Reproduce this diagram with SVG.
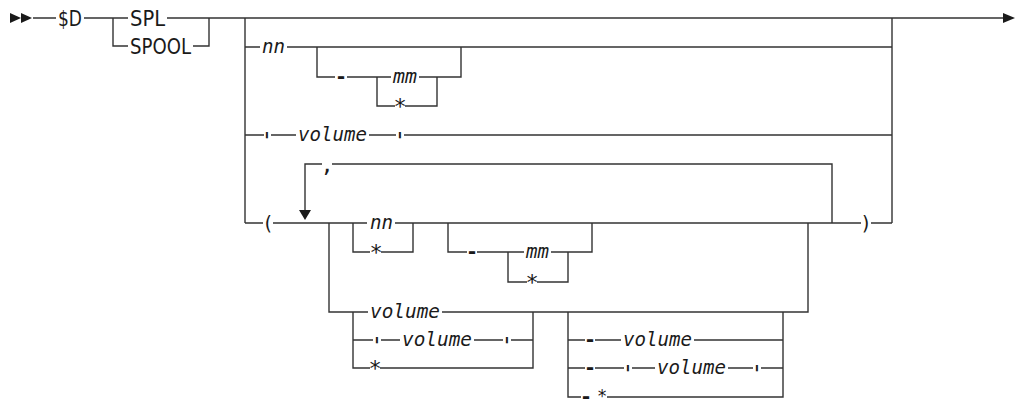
<svg xmlns="http://www.w3.org/2000/svg" width="1017" height="406" viewBox="0 0 1017 406">
<style>
.c{fill:none;stroke:#333;stroke-width:1.4}
.k{font-family:"DejaVu Sans Condensed","DejaVu Sans",sans-serif;font-stretch:condensed;font-size:20.5px;fill:#1a1a1a}
.v{font-family:"DejaVu Sans Mono",monospace;font-style:italic;font-size:20px;fill:#1a1a1a}
.p{font-family:"DejaVu Sans Mono",monospace;font-size:22px;fill:#1a1a1a;text-anchor:middle}
.q{font-family:"DejaVu Sans Mono",monospace;font-size:23px;fill:#1a1a1a;text-anchor:middle}
.h{font-family:"DejaVu Sans Mono",monospace;font-size:20px;font-weight:bold;fill:#1a1a1a;text-anchor:middle}
.r{font-family:"DejaVu Sans Mono",monospace;font-size:19px;fill:#1a1a1a;text-anchor:middle}
.a{fill:#1a1a1a}
</style>
<rect width="1017" height="406" fill="#fff"/>
<g id="connectors">
<path class="c" d="M33,18 H56 M84,18 H128 M167,18 H1003 M113,18 V46 H128 M193,46 H209 V18 M245,18 V223 M892,18 V223"/>
<path class="c" d="M245,47 H260 M287,47 H892 M317,47 V77 H335 M347,77 H391 M419,77 H461 V47 M377,77 V106 H395 M405,106 H437 V77"/>
<path class="c" d="M245,135 H264 M271,135 H296 M369,135 H396 M404,135 H892"/>
<path class="c" d="M305,212 V164 H322 M332,164 H832 V223"/>
<path class="c" d="M245,223 H263 M273,223 H367 M395,223 H861 M871,223 H892"/>
<path class="c" d="M353,223 V252 H370 M381,252 H413 V223 M448,223 V252 H467 M477,252 H524 M551,252 H592 V223 M508,252 V282 H527 M537,282 H568 V252"/>
<path class="c" d="M329,223 V312 H368 M442,312 H808 V223 M353,312 V368 H370 M380,368 H533 V312 M353,340 H373 M381,340 H400 M474,340 H503 M511,340 H533"/>
<path class="c" d="M568,312 V397 H581 M607,397 H783 V312 M568,340 H585 M595,340 H621 M694,340 H783 M568,368 H585 M595,368 H624 M632,368 H655 M728,368 H753 M761,368 H783"/>
<polygon class="a" points="10,13 21,18 10,23"/>
<polygon class="a" points="21,13 32,18 21,23"/>
<polygon class="a" points="1003,13 1015,18 1003,23"/>
<polygon class="a" points="299,210 311,210 305,220"/>
</g>
<g id="n-d"><text class="k" x="58" y="25.5" textLength="24" lengthAdjust="spacingAndGlyphs">$D</text></g>
<g id="n-spl"><text class="k" x="130" y="25.5" textLength="35" lengthAdjust="spacingAndGlyphs">SPL</text></g>
<g id="n-spool"><text class="k" x="130" y="53.5" textLength="61" lengthAdjust="spacingAndGlyphs">SPOOL</text></g>
<g id="n-nn1"><text class="v" x="262" y="52.5" textLength="23" lengthAdjust="spacingAndGlyphs">nn</text></g>
<g id="n-dash1"><text class="h" x="341" y="83">-</text></g>
<g id="n-mm1"><text class="v" x="393" y="82.5" textLength="24" lengthAdjust="spacingAndGlyphs">mm</text></g>
<g id="n-star1"><text class="p" x="400" y="114">*</text></g>
<g id="n-q1"><text class="q" x="267" y="148.5">'</text></g>
<g id="n-vol1"><text class="v" x="298" y="140.5" textLength="69" lengthAdjust="spacingAndGlyphs">volume</text></g>
<g id="n-q2"><text class="q" x="400" y="148.5">'</text></g>
<g id="n-comma"><text class="p" x="327" y="172">,</text></g>
<g id="n-lp"><text class="r" x="268" y="229.5">(</text></g>
<g id="n-nn2"><text class="v" x="370" y="228.5" textLength="23" lengthAdjust="spacingAndGlyphs">nn</text></g>
<g id="n-star2"><text class="p" x="376" y="260">*</text></g>
<g id="n-dash2"><text class="h" x="472" y="258">-</text></g>
<g id="n-mm2"><text class="v" x="526" y="257.5" textLength="23" lengthAdjust="spacingAndGlyphs">mm</text></g>
<g id="n-star3"><text class="p" x="532" y="290">*</text></g>
<g id="n-rp"><text class="r" x="866" y="229.5">)</text></g>
<g id="n-vol2"><text class="v" x="370" y="317.5" textLength="70" lengthAdjust="spacingAndGlyphs">volume</text></g>
<g id="n-q3"><text class="q" x="377" y="353.5">'</text></g>
<g id="n-vol3"><text class="v" x="402" y="345.5" textLength="70" lengthAdjust="spacingAndGlyphs">volume</text></g>
<g id="n-q4"><text class="q" x="507" y="353.5">'</text></g>
<g id="n-star4"><text class="p" x="375" y="376">*</text></g>
<g id="n-dash3"><text class="h" x="590" y="346">-</text></g>
<g id="n-vol4"><text class="v" x="623" y="345.5" textLength="69" lengthAdjust="spacingAndGlyphs">volume</text></g>
<g id="n-dash4"><text class="h" x="590" y="374">-</text></g>
<g id="n-q5"><text class="q" x="628" y="381.5">'</text></g>
<g id="n-vol5"><text class="v" x="657" y="373.5" textLength="69" lengthAdjust="spacingAndGlyphs">volume</text></g>
<g id="n-q6"><text class="q" x="757" y="381.5">'</text></g>
<g id="n-dash5"><text class="h" x="586" y="403">-</text></g>
<g id="n-star5"><text class="p" x="602" y="401.5" style="font-size:17px">*</text></g>
</svg>
